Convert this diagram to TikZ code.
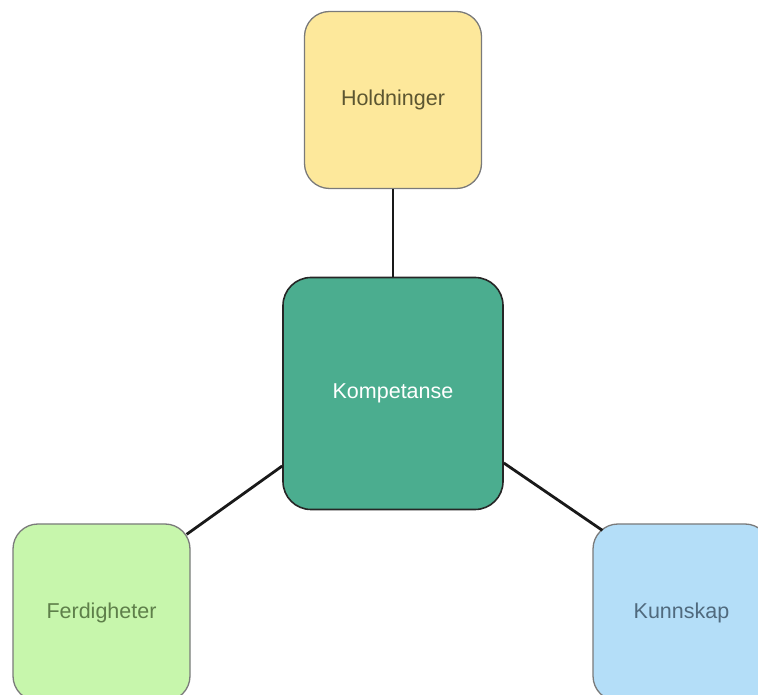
\documentclass[tikz,border=0pt]{standalone}
\usepackage{fontspec}
\setmainfont{Liberation Sans}
\usepackage{xcolor}
\usetikzlibrary{positioning}

\definecolor{holdfill}{HTML}{FDE89B}
\definecolor{holdtext}{HTML}{5C5631}
\definecolor{kompfill}{HTML}{4BAD8F}
\definecolor{ferdfill}{HTML}{C7F6AC}
\definecolor{ferdtext}{HTML}{5E7F4A}
\definecolor{kunnfill}{HTML}{B4DEF8}
\definecolor{kunntext}{HTML}{506A7E}
\definecolor{edgegray}{HTML}{7A7A7A}

\begin{document}
\begin{tikzpicture}[
  x=1pt, y=1pt,
  box/.style={rectangle, draw=edgegray, line width=1.3pt, rounded corners=25pt, minimum width=177pt, minimum height=177pt, inner sep=0pt, align=center, font=\fontsize{21.5}{25}\selectfont},
  big_box/.style={box, draw=black!85, line width=1.6pt, rounded corners=28pt, minimum width=220pt, minimum height=232pt},
  link/.style={line width=2.8pt, black!90}
]
\clip (0,0) rectangle (758,694);
\useasboundingbox (0,0) rectangle (758,694);

% Centre
\node[big_box, fill=kompfill, text=white] (komp) at (393, 300.5) {\raisebox{-2pt}{Kompetanse}};

% Top
\node[box, fill=holdfill, text=holdtext] (hold) at (393, 594) {\raisebox{-2pt}{Holdninger}};

% Bottom left and right
\node[box, fill=ferdfill, text=ferdtext] (ferd) at (101.5, 81.5) {\raisebox{-1pt}{Ferdigheter}};
\node[box, fill=kunnfill, text=kunntext] (kunn) at (681.5, 81.5) {\raisebox{-1pt}{Kunnskap}};

% Connections
\draw[link] (hold.south) -- (komp.north);
\draw[link] ([shift={(-4,-11)}]ferd.north east) -- ([yshift=-72.5pt]komp.west);
\draw[link] ([yshift=-69.5pt]komp.east) -- ([shift={(10,-7)}]kunn.north west);

\end{tikzpicture}
\end{document}
